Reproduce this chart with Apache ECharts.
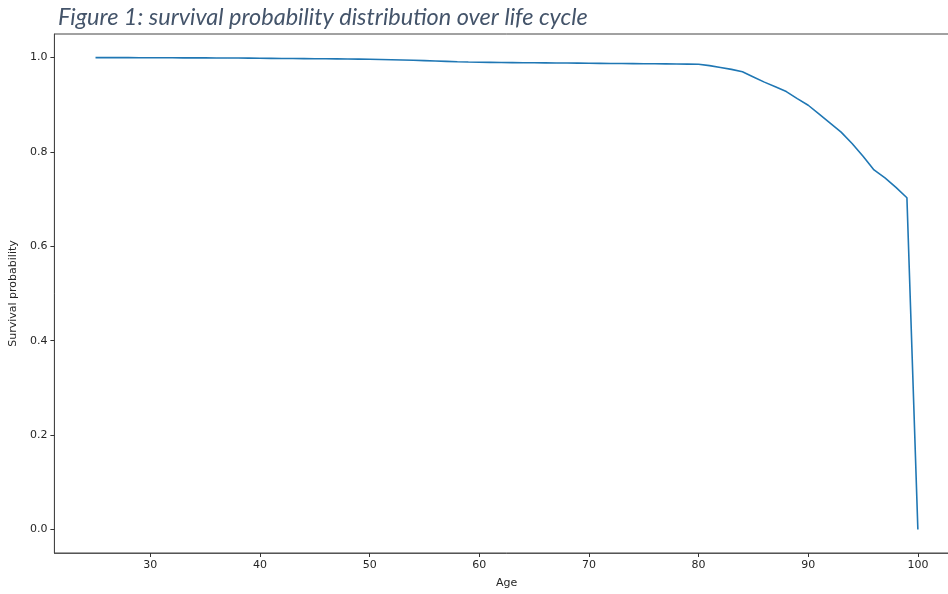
<!DOCTYPE html>
<html>
<head>
<meta charset="utf-8">
<script src="https://cdn.jsdelivr.net/npm/echarts@6/dist/echarts.min.js"></script>
<style>
  html, body { margin: 0; padding: 0; background: #ffffff; overflow: hidden; }
  /* the axes frame runs a little past the right edge of the window */
  #chart { width: 972px; height: 594px; }
</style>
</head>
<body>
<div id="chart"></div>
<script>
// Ages covered by the life-cycle model
const ages = [];
for (let a = 25; a <= 100; a++) ages.push(a);

// Survival probability by age (25 .. 100)
const survival = [
  1.0000, 1.0000, 0.9999, 0.9999, 0.9998, 0.9998, 0.9997, 0.9996, 0.9995, 0.9994, // 25-34
  0.9993, 0.9992, 0.9991, 0.9990, 0.9988, 0.9986, 0.9984, 0.9982, 0.9980, 0.9978, // 35-44
  0.9976, 0.9974, 0.9972, 0.9970, 0.9968, 0.9965, 0.9960, 0.9955, 0.9950, 0.9943, // 45-54
  0.9936, 0.9928, 0.9920, 0.9912, 0.9905, 0.9900, 0.9898, 0.9896, 0.9894, 0.9892, // 55-64
  0.9890, 0.9888, 0.9886, 0.9884, 0.9882, 0.9880, 0.9878, 0.9876, 0.9874, 0.9872, // 65-74
  0.9870, 0.9868, 0.9866, 0.9864, 0.9862, 0.9860, 0.9830, 0.9790, 0.9750, 0.9700, // 75-84
  0.9590, 0.9480, 0.9380, 0.9280, 0.9130, 0.8990, 0.8800, 0.8610, 0.8420, 0.8180, // 85-94
  0.7910, 0.7620, 0.7450, 0.7250, 0.7030, 0.0000                                  // 95-100
];

// Tick positions
const xTicks = [30, 40, 50, 60, 70, 80, 90, 100];
const yTicks = [0, 0.2, 0.4, 0.6, 0.8, 1.0];

const chart = echarts.init(document.getElementById('chart'), null, { renderer: 'canvas' });

const tickFont = { fontFamily: 'DejaVu Sans', fontSize: 11, color: '#262626' };

chart.setOption({
  animation: false,
  title: {
    text: 'Figure 1: survival probability distribution over life cycle',
    left: 53,
    top: 1,
    textStyle: {
      fontFamily: 'Lato',
      fontStyle: 'italic',
      fontWeight: 'normal',
      fontSize: 23.5,
      color: '#44546A'
    }
  },
  grid: {
    left: 53,
    top: 34,
    right: 13,
    bottom: 37,
    show: true,
    borderColor: '#444444',
    borderWidth: 1,
    backgroundColor: 'transparent'
  },
  xAxis: {
    type: 'value',
    min: 21.25,
    max: 103.75,
    name: 'Age',
    nameLocation: 'middle',
    nameGap: 25,
    nameTextStyle: { fontFamily: 'DejaVu Sans', fontSize: 11, color: '#262626' },
    axisLine: { show: true, onZero: false, lineStyle: { color: '#555555', width: 1 } },
    axisTick: { show: true, length: 4, customValues: xTicks, lineStyle: { color: '#333333' } },
    axisLabel: { margin: 7, customValues: xTicks, ...tickFont },
    splitLine: { show: false }
  },
  yAxis: {
    type: 'value',
    min: -0.05,
    max: 1.05,
    name: 'Survival probability',
    nameLocation: 'middle',
    nameGap: 28,
    nameRotate: 90,
    nameTextStyle: { fontFamily: 'DejaVu Sans', fontSize: 11, color: '#262626' },
    axisLine: { show: true, onZero: false, lineStyle: { color: '#444444', width: 1 } },
    axisTick: { show: true, length: 4, customValues: yTicks, lineStyle: { color: '#333333' } },
    axisLabel: {
      margin: 7,
      customValues: yTicks,
      formatter: v => v.toFixed(1),
      ...tickFont
    },
    splitLine: { show: false }
  },
  series: [{
    type: 'line',
    data: ages.map((a, i) => [a, survival[i]]),
    showSymbol: false,
    lineStyle: { color: '#1f77b4', width: 1.6 },
    clip: true
  }]
});
</script>
</body>
</html>
